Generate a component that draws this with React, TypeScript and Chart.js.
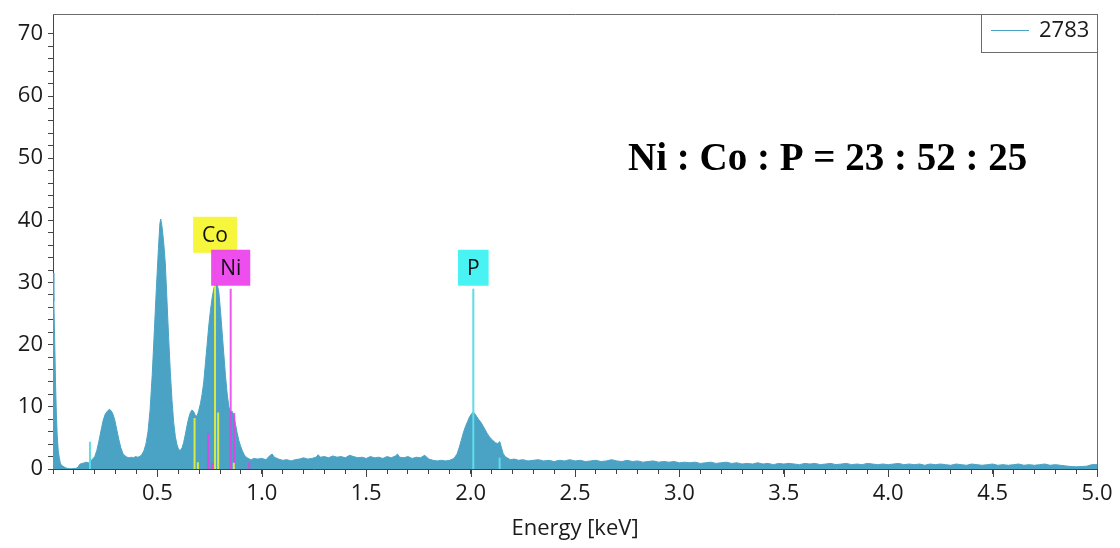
import React, { useEffect, useRef } from 'react';
import { Chart, registerables } from 'chart.js';

Chart.register(...registerables);

// ---- Spectrum (energy in keV, counts) ----
const energy = [
  0.000, 0.004, 0.008, 0.012, 0.016, 0.020, 0.025, 0.030, 0.035, 0.040,
  0.050, 0.060, 0.070, 0.080, 0.090, 0.100, 0.110, 0.120, 0.125, 0.130,
  0.140, 0.150, 0.160, 0.170, 0.180, 0.190, 0.200, 0.210, 0.220, 0.230,
  0.240, 0.250, 0.260, 0.270, 0.275, 0.285, 0.295, 0.305, 0.315, 0.325,
  0.335, 0.345, 0.355, 0.365, 0.375, 0.385, 0.395, 0.405, 0.415, 0.425,
  0.435, 0.445, 0.455, 0.465, 0.475, 0.485, 0.495, 0.505, 0.512, 0.516,
  0.522, 0.530, 0.538, 0.546, 0.554, 0.562, 0.570, 0.578, 0.586, 0.594,
  0.602, 0.610, 0.618, 0.626, 0.634, 0.642, 0.650, 0.658, 0.666, 0.674,
  0.682, 0.690, 0.698, 0.706, 0.714, 0.722, 0.730, 0.738, 0.746, 0.754,
  0.762, 0.770, 0.778, 0.786, 0.794, 0.802, 0.810, 0.818, 0.826, 0.834,
  0.842, 0.850, 0.858, 0.866, 0.874, 0.882, 0.890, 0.898, 0.906, 0.914,
  0.922, 0.930, 0.940, 0.950, 0.960, 0.980, 1.000, 1.020, 1.040, 1.050,
  1.060, 1.080, 1.100, 1.120, 1.140, 1.160, 1.180, 1.200, 1.220, 1.240,
  1.260, 1.270, 1.280, 1.300, 1.320, 1.340, 1.360, 1.380, 1.400, 1.420,
  1.440, 1.460, 1.480, 1.500, 1.520, 1.540, 1.560, 1.580, 1.600, 1.620,
  1.640, 1.650, 1.660, 1.680, 1.700, 1.720, 1.740, 1.760, 1.780, 1.800,
  1.820, 1.840, 1.860, 1.880, 1.900, 1.920, 1.935, 1.945, 1.955, 1.965,
  1.975, 1.985, 1.995, 2.005, 2.013, 2.020, 2.030, 2.040, 2.050, 2.060,
  2.070, 2.080, 2.090, 2.100, 2.110, 2.120, 2.130, 2.140, 2.148, 2.156,
  2.165, 2.175, 2.190, 2.210, 2.230, 2.250, 2.275, 2.300, 2.325, 2.350,
  2.375, 2.400, 2.425, 2.450, 2.475, 2.500, 2.525, 2.550, 2.575, 2.600,
  2.625, 2.650, 2.675, 2.700, 2.725, 2.750, 2.775, 2.800, 2.825, 2.850,
  2.875, 2.900, 2.925, 2.950, 2.975, 3.000, 3.025, 3.050, 3.075, 3.100,
  3.125, 3.150, 3.175, 3.200, 3.225, 3.250, 3.275, 3.300, 3.325, 3.350,
  3.375, 3.400, 3.425, 3.450, 3.475, 3.500, 3.525, 3.550, 3.575, 3.600,
  3.625, 3.650, 3.675, 3.700, 3.725, 3.750, 3.775, 3.800, 3.825, 3.850,
  3.875, 3.900, 3.925, 3.950, 3.975, 4.000, 4.025, 4.050, 4.075, 4.100,
  4.125, 4.150, 4.175, 4.200, 4.225, 4.250, 4.275, 4.300, 4.325, 4.350,
  4.375, 4.400, 4.425, 4.450, 4.475, 4.500, 4.525, 4.550, 4.575, 4.600,
  4.625, 4.650, 4.675, 4.700, 4.725, 4.750, 4.775, 4.800, 4.825, 4.850,
  4.875, 4.900, 4.925, 4.950, 4.975, 5.000,
];

const counts = [
  31.5, 27, 21, 14, 9, 5.5, 3, 1.8, 1.0, 0.6,
  0.4, 0.2, 0.1, 0.05, 0.05, 0.1, 0.1, 0.3, 0.6, 0.8,
  0.9, 1.0, 1.1, 1.0, 1.3, 1.6, 2.0, 3.0, 4.5, 6.2,
  7.8, 8.8, 9.3, 9.6, 9.5, 9.0, 8.0, 6.4, 4.8, 3.4,
  2.5, 2.1, 1.9, 1.8, 1.9, 1.8, 2.0, 1.9, 2.0, 2.3,
  2.9, 4.0, 6.0, 9.5, 15, 22, 29, 35.5, 39.5, 40.2,
  39.0, 36.5, 33, 27, 21, 15.5, 11, 7.5, 5.2, 3.9,
  3.1, 3.0, 3.4, 4.3, 5.6, 7.0, 8.2, 9.1, 9.5, 9.2,
  8.6, 8.5, 9.4, 10.5, 12, 14, 17, 20, 23, 25.5,
  27.5, 29, 30, 29.8, 28.5, 25.5, 22, 18.5, 15, 12.2,
  10, 9.1, 9.3, 8.6, 7.2, 5.8, 4.6, 3.7, 3.0, 2.4,
  2.0, 1.8, 1.6, 1.5, 1.7, 1.6, 1.7, 1.5, 2.2, 2.4,
  1.9, 1.6, 1.4, 1.5, 1.3, 1.5, 1.6, 1.8, 1.6, 1.7,
  1.9, 2.3, 1.9, 2.0, 1.8, 2.1, 1.9, 2.0, 1.8, 2.2,
  2.0, 1.8, 1.9, 1.7, 2.0, 1.8, 1.9, 1.7, 2.0, 1.8,
  2.1, 2.4, 1.9, 1.8, 2.0, 1.7, 1.9, 1.8, 2.2, 1.6,
  1.4, 1.3, 1.4, 1.3, 1.4, 1.7, 2.4, 3.4, 4.6, 5.8,
  6.8, 7.6, 8.4, 8.9, 9.2, 8.9, 8.4, 7.9, 7.5, 6.9,
  6.3, 5.7, 5.2, 4.8, 4.5, 4.2, 4.1, 4.4, 3.4, 2.5,
  2.0, 1.8, 1.5, 1.6, 1.4, 1.5, 1.3, 1.4, 1.5, 1.3,
  1.4, 1.2, 1.4, 1.3, 1.5, 1.3, 1.4, 1.2, 1.3, 1.4,
  1.2, 1.3, 1.5, 1.3, 1.2, 1.4, 1.2, 1.3, 1.1, 1.2,
  1.3, 1.1, 1.2, 1.1, 1.2, 1.0, 1.1, 1.0, 1.1, 0.9,
  1.0, 1.1, 0.9, 1.0, 1.1, 0.9, 1.0, 0.8, 0.9, 0.8,
  1.0, 0.8, 0.9, 0.7, 0.9, 0.8, 0.9, 0.8, 0.7, 0.9,
  0.8, 0.9, 0.7, 0.8, 0.9, 0.7, 0.8, 0.9, 0.7, 0.8,
  0.7, 0.9, 0.8, 0.7, 0.8, 0.7, 0.8, 0.9, 0.7, 0.8,
  0.7, 0.8, 0.6, 0.8, 0.7, 0.8, 0.7, 0.6, 0.8, 0.7,
  0.6, 0.8, 0.7, 0.6, 0.7, 0.8, 0.6, 0.7, 0.6, 0.7,
  0.8, 0.6, 0.7, 0.6, 0.7, 0.8, 0.6, 0.7, 0.6, 0.5,
  0.4, 0.35, 0.4, 0.45, 0.7, 0.7,
];

// ---- Element marker lines (energy keV, height counts) ----
const coEnergies = [0.678, 0.694, 0.776, 0.791, 0.866];
const coHeights = [8.2, 1.1, 34.3, 9.1, 1.0];
const niEnergies = [0.743, 0.762, 0.851, 0.868, 0.94];
const niHeights = [5.8, 1.0, 29, 9.0, 1.1];
const pEnergies = [0.177, 2.013, 2.139];
const pHeights = [4.4, 29, 1.8];

const elementNames = ['Co', 'Ni', 'P'];
const elementLabelEnergy = [0.776, 0.851, 2.013];
const elementLabelHeight = [34.3, 29, 29];

// ---- Axis ticks / texts ----
const xMajorTicks = [0.5, 1.0, 1.5, 2.0, 2.5, 3.0, 3.5, 4.0, 4.5, 5.0];
const yMajorTicks = [0, 10, 20, 30, 40, 50, 60, 70];
const seriesName = '2783';
const ratioText = 'Ni : Co : P = 23 : 52 : 25';
const xTitle = 'Energy [keV]';

const SPECTRUM = '#4aa3c4';
const CO_LINE = 'rgba(230,238,60,0.92)';
const NI_LINE = 'rgba(235,60,235,0.85)';
const P_LINE = '#5ddde6';
const CO_BOX = '#f6f633';
const NI_BOX = '#ee44ee';
const P_BOX = '#3ff2f2';
const FONT = '"Open Sans", "DejaVu Sans", sans-serif';

function markerData(es: number[], hs: number[]) {
  const out: any[] = [];
  es.forEach((e, i) => {
    out.push({ x: e, y: 0 });
    out.push({ x: e, y: hs[i] });
    out.push({ x: e, y: null });
  });
  return out;
}

const overlayPlugin = {
  id: 'overlay',
  afterDraw(chart: any) {
    const { ctx, chartArea: a, scales } = chart;
    const x = scales.x;
    const y = scales.y;
    ctx.save();

    // frame top & right
    ctx.strokeStyle = '#6b6b6b';
    ctx.lineWidth = 1;
    ctx.beginPath();
    ctx.moveTo(a.left, a.top + 0.5);
    ctx.lineTo(a.right + 0.5, a.top + 0.5);
    ctx.lineTo(a.right + 0.5, a.bottom);
    ctx.stroke();

    // longer major x ticks
    ctx.strokeStyle = '#444';
    ctx.beginPath();
    xMajorTicks.forEach((v) => {
      const px = Math.round(x.getPixelForValue(v)) + 0.5;
      ctx.moveTo(px, a.bottom);
      ctx.lineTo(px, a.bottom + 8);
    });
    ctx.stroke();

    // element labels
    const boxColors = [CO_BOX, NI_BOX, P_BOX];
    ctx.font = '21px ' + FONT;
    ctx.textAlign = 'center';
    ctx.textBaseline = 'middle';
    elementNames.forEach((name, i) => {
      const cx = x.getPixelForValue(elementLabelEnergy[i]);
      const bottom = y.getPixelForValue(elementLabelHeight[i]) - 3;
      const w = ctx.measureText(name).width + 18;
      const h = 36;
      ctx.fillStyle = boxColors[i];
      ctx.globalAlpha = 0.95;
      ctx.fillRect(cx - w / 2, bottom - h, w, h);
      ctx.globalAlpha = 1;
      ctx.fillStyle = '#111';
      ctx.fillText(name, cx, bottom - h / 2 + 1);
    });

    // legend box
    const lw = 116;
    const lh = 38;
    const lx = a.right - lw;
    const ly = a.top;
    ctx.fillStyle = '#fff';
    ctx.fillRect(lx, ly, lw, lh);
    ctx.strokeStyle = '#6b6b6b';
    ctx.lineWidth = 1;
    ctx.strokeRect(lx + 0.5, ly + 0.5, lw, lh);
    ctx.strokeStyle = SPECTRUM;
    ctx.beginPath();
    ctx.moveTo(lx + 10, ly + 16.5);
    ctx.lineTo(lx + 48, ly + 16.5);
    ctx.stroke();
    ctx.fillStyle = '#1a1a1a';
    ctx.font = '22px ' + FONT;
    ctx.textAlign = 'left';
    ctx.textBaseline = 'middle';
    ctx.fillText(seriesName, lx + 58, ly + 17);

    // ratio annotation
    ctx.font = 'bold 39px "Liberation Serif", "Times New Roman", serif';
    ctx.fillStyle = '#000';
    ctx.textAlign = 'left';
    ctx.textBaseline = 'alphabetic';
    ctx.fillText(ratioText, 628, 170);

    ctx.restore();
  },
};

export default function App() {
  const ref = useRef<HTMLCanvasElement | null>(null);

  useEffect(() => {
    if (!ref.current) return;
    const spectrum = energy.map((e, i) => ({ x: e, y: counts[i] }));
    const lineBase = {
      type: 'line' as const,
      fill: false,
      borderWidth: 2,
      pointRadius: 0,
      tension: 0,
      spanGaps: false,
      order: 1,
    };
    const chart = new Chart(ref.current, {
      type: 'line',
      data: {
        datasets: [
          {
            label: seriesName,
            data: spectrum,
            borderColor: SPECTRUM,
            backgroundColor: SPECTRUM,
            borderWidth: 1,
            fill: 'origin',
            pointRadius: 0,
            tension: 0,
            order: 5,
          },
          { ...lineBase, label: 'Co', data: markerData(coEnergies, coHeights), borderColor: CO_LINE },
          { ...lineBase, label: 'Ni', data: markerData(niEnergies, niHeights), borderColor: NI_LINE },
          { ...lineBase, label: 'P', data: markerData(pEnergies, pHeights), borderColor: P_LINE },
        ],
      },
      options: {
        responsive: false,
        animation: false,
        devicePixelRatio: 1,
        layout: { padding: { top: 14, right: 23, left: 0, bottom: 0 } },
        plugins: {
          legend: { display: false },
          tooltip: { enabled: false },
        },
        scales: {
          x: {
            type: 'linear',
            min: 0,
            max: 5,
            afterFit: (s: any) => {
              s.height = 79;
              s.paddingLeft = 0;
              s.paddingRight = 0;
            },
            border: { display: true, color: '#444', width: 1 },
            grid: {
              display: true,
              drawOnChartArea: false,
              drawTicks: true,
              tickLength: 5,
              tickColor: '#444',
            },
            ticks: {
              stepSize: 0.1,
              autoSkip: false,
              maxRotation: 0,
              padding: 7,
              color: '#1a1a1a',
              font: { family: FONT, size: 22 },
              callback: (v: any) => {
                const n = Math.round(Number(v) * 10) / 10;
                return xMajorTicks.some((t) => Math.abs(t - n) < 1e-6) ? n.toFixed(1) : '';
              },
            },
            title: {
              display: true,
              text: xTitle,
              color: '#1a1a1a',
              font: { family: FONT, size: 22 },
              padding: { top: 0, bottom: 6 },
            },
          },
          y: {
            type: 'linear',
            min: 0,
            max: 73.2,
            afterFit: (s: any) => {
              s.width = 53;
              s.paddingTop = 0;
              s.paddingBottom = 0;
            },
            border: { display: true, color: '#444', width: 1 },
            grid: {
              display: true,
              drawOnChartArea: false,
              drawTicks: true,
              tickLength: 5,
              tickColor: (c: any) => {
                const v = c.tick ? c.tick.value : 0;
                return Math.abs(v - Math.round(v / 2) * 2) < 1e-6 ? '#444' : 'rgba(0,0,0,0)';
              },
            },
            ticks: {
              stepSize: 2,
              autoSkip: false,
              padding: 5,
              color: '#1a1a1a',
              font: { family: FONT, size: 22 },
              callback: (v: any) => {
                const n = Math.round(Number(v));
                return yMajorTicks.includes(n) && Math.abs(n - Number(v)) < 1e-6 ? String(n) : '';
              },
            },
          },
        },
      },
      plugins: [overlayPlugin],
    } as any);
    return () => chart.destroy();
  }, []);

  return (
    <div style={{ position: 'absolute', left: 0, top: 0, width: 1120, height: 548, background: '#fff' }}>
      <canvas ref={ref} width={1120} height={548} style={{ display: 'block' }} />
    </div>
  );
}
